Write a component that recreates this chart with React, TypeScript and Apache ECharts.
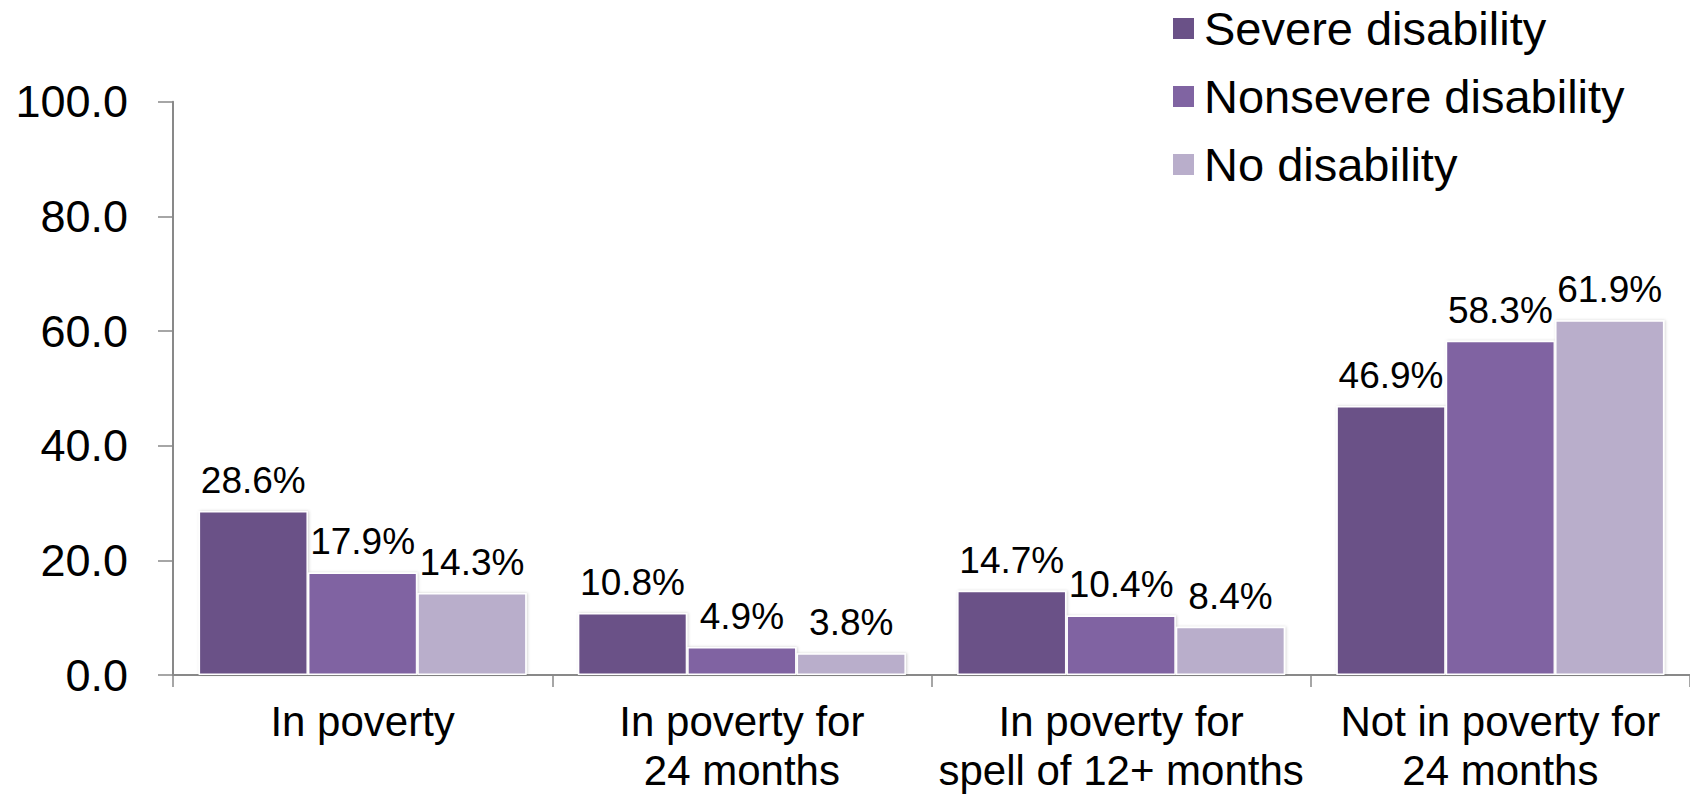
import React, { useEffect, useRef } from "react";
import * as echarts from "echarts";

const categories = [
  "In poverty",
  "In poverty for\n24 months",
  "In poverty for\nspell of 12+ months",
  "Not in poverty for\n24 months",
];
const seriesNames = ["Severe disability", "Nonsevere disability", "No disability"];
const severe = [28.6, 10.8, 14.7, 46.9];
const nonsevere = [17.9, 4.9, 10.4, 58.3];
const noDisability = [14.3, 3.8, 8.4, 61.9];
const colors = ["#6a5187", "#8064a2", "#b9aecb"];
const yTicks = { min: 0, max: 100, interval: 20 };

const FONT = "'Liberation Sans', Arial, sans-serif";

export default function App() {
  const ref = useRef<HTMLDivElement>(null);
  useEffect(() => {
    if (!ref.current) return;
    const chart = echarts.init(ref.current, undefined, { renderer: "svg" });
    const values = [severe, nonsevere, noDisability];
    chart.setOption({
      animation: false,
      backgroundColor: "#ffffff",
      textStyle: { fontFamily: FONT },
      legend: {
        orient: "vertical",
        left: 1166,
        top: 0,
        itemWidth: 23,
        itemHeight: 23,
        itemGap: 21,
        icon: "rect",
        textStyle: { fontSize: 47, lineHeight: 47, color: "#000", fontFamily: FONT, padding: [0, 0, 0, 4] },
        data: seriesNames,
      },
      grid: { left: 173, top: 101.7, width: 1525, height: 573.3, containLabel: false },
      xAxis: {
        type: "category",
        data: categories,
        axisLine: { lineStyle: { color: "#898989", width: 2 } },
        axisTick: { show: true, length: 12, lineStyle: { color: "#898989", width: 1.5 } },
        axisLabel: {
          interval: 0,
          fontSize: 42,
          lineHeight: 49,
          color: "#000",
          fontFamily: FONT,
          margin: 22,
        },
      },
      yAxis: {
        type: "value",
        min: yTicks.min,
        max: yTicks.max,
        interval: yTicks.interval,
        splitLine: { show: false },
        axisLine: { show: true, lineStyle: { color: "#898989", width: 2 } },
        axisTick: { show: true, length: 15, lineStyle: { color: "#898989", width: 1.5 } },
        axisLabel: {
          fontSize: 45,
          color: "#000",
          fontFamily: FONT,
          margin: 45,
          formatter: (v: number) => v.toFixed(1),
        },
      },
      series: seriesNames.map((name, i) => ({
        name,
        type: "bar",
        data: values[i],
        barGap: "0%",
        barCategoryGap: "13.5%",
        itemStyle: {
          color: colors[i],
          borderColor: "#ffffff",
          borderWidth: 1.5,
          shadowColor: "rgba(0,0,0,0.18)",
          shadowBlur: 3,
          shadowOffsetX: 1,
          shadowOffsetY: 0,
        },
        label: {
          show: true,
          position: "top",
          distance: 12,
          fontSize: 37,
          color: "#000",
          fontFamily: FONT,
          formatter: (p: any) => p.value.toFixed(1) + "%",
        },
      })),
    });
    return () => chart.dispose();
  }, []);
  return (
    <div
      ref={ref}
      style={{ position: "fixed", left: 0, top: 0, width: 1690, height: 796 }}
    />
  );
}
